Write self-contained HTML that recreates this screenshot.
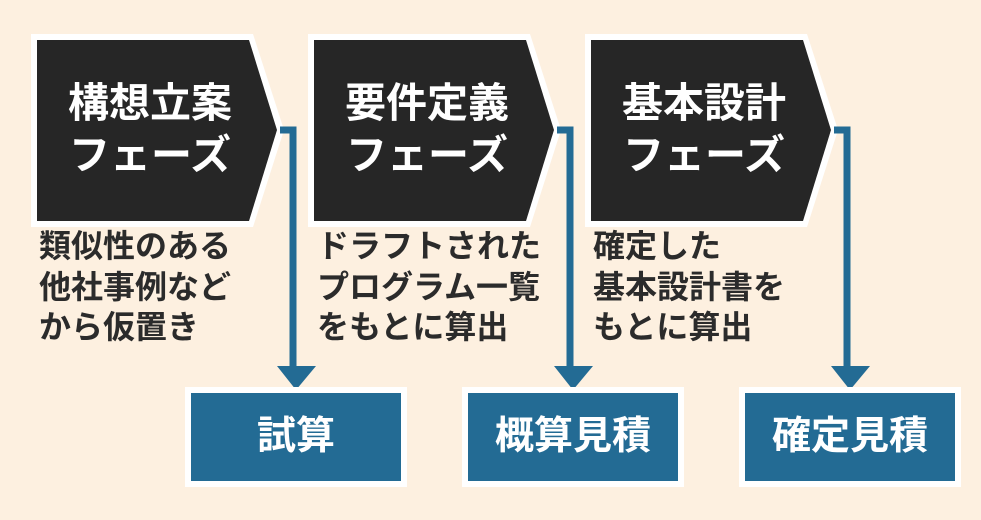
<!DOCTYPE html>
<html><head><meta charset="utf-8"><style>
body{margin:0;width:981px;height:520px;background:#fdf0e0;overflow:hidden;font-family:"Liberation Sans","Noto Sans CJK JP",sans-serif;font-weight:bold}
.t{position:absolute;color:#fff;font-size:41px;line-height:52px;text-align:center;width:220px}
.d{position:absolute;color:#2b2b2b;font-size:32px;line-height:40.5px;white-space:nowrap}
.b{position:absolute;color:#fff;font-size:39px;line-height:50px;width:210px;text-align:center;top:412px}
</style></head><body>
<svg width="981" height="520" style="position:absolute;left:0;top:0">
<g id="c">
<polygon points="31,34 253,34 284,130 253,227 31,227" fill="#fff"/>
<polygon points="37,40 249,40 277,130 249,221 37,221" fill="#262626"/>
<polyline points="280,130 293,130 293,372" fill="none" stroke="#236b94" stroke-width="7"/>
<polygon points="277,366 316,366 296,390" fill="#236b94"/>
<rect x="185" y="387" width="222" height="100" fill="#fff"/>
<rect x="191" y="393" width="210" height="88" fill="#236b94"/>
</g>
<use href="#c" x="277"/><use href="#c" x="554"/>
</svg>
<div class="t" style="left:40px;top:77px">構想立案<br>フェーズ</div>
<div class="t" style="left:317px;top:77px">要件定義<br>フェーズ</div>
<div class="t" style="left:594px;top:77px">基本設計<br>フェーズ</div>
<div class="d" style="left:39px;top:226px">類似性のある<br>他社事例など<br>から仮置き</div>
<div class="d" style="left:317px;top:226px">ドラフトされた<br>プログラム一覧<br>をもとに算出</div>
<div class="d" style="left:593px;top:226px">確定した<br>基本設計書を<br>もとに算出</div>
<div class="b" style="left:191px">試算</div>
<div class="b" style="left:468px">概算見積</div>
<div class="b" style="left:745px">確定見積</div>
</body></html>
